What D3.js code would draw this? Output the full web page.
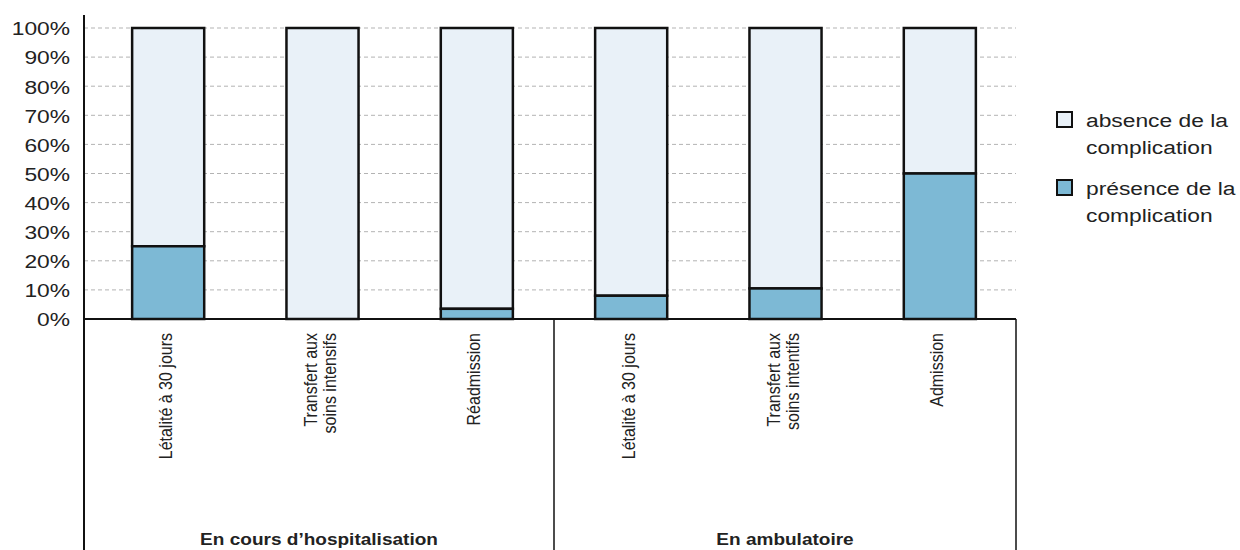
<!DOCTYPE html>
<html>
<head>
<meta charset="utf-8">
<script src="https://cdn.jsdelivr.net/npm/d3@7"></script>
<style>
  html, body { margin: 0; padding: 0; background: #fff; }
  svg { display: block; font-family: "Liberation Sans", Arial, Helvetica, sans-serif; }
</style>
</head>
<body>
<svg id="chart" width="1240" height="550"></svg>
<script>
// Complications, share of patients (%)
const categories = [
  ["Létalité à 30 jours"],
  ["Transfert aux", "soins intensifs"],
  ["Réadmission"],
  ["Létalité à 30 jours"],
  ["Transfert aux", "soins intentifs"],
  ["Admission"]
];
const groups = ["En cours d’hospitalisation", "En ambulatoire"];
const presence = [25, 0, 3.5, 8, 10.5, 50];
const absence = [75, 100, 96.5, 92, 89.5, 50];
const yTicks = [0, 10, 20, 30, 40, 50, 60, 70, 80, 90, 100];
const seriesNames = ["absence de la\ncomplication", "présence de la\ncomplication"];
const seriesColors = ["#e9f1f8", "#7db9d5"];

// the typeface is set slightly wide: glyphs are stretched horizontally
const stretch = 1.2;

const svg = d3.select("#chart");
const plotLeft = 84, plotRight = 1016, plotTop = 28, plotBottom = 319;

const x = d3.scaleBand()
  .domain(d3.range(categories.length))
  .range([91, 1017])
  .paddingInner(0.533)
  .paddingOuter(0.2665);

const y = d3.scaleLinear().domain([0, 100]).range([plotBottom, plotTop]);

// dashed gridlines
svg.append("g")
  .selectAll("line")
  .data(yTicks.filter(d => d > 0))
  .join("line")
  .attr("x1", plotLeft).attr("x2", plotRight)
  .attr("y1", d => y(d)).attr("y2", d => y(d))
  .attr("stroke", "#b3b3b3")
  .attr("stroke-width", 1)
  .attr("stroke-dasharray", "4,3");

// y axis labels
const yAxis = d3.axisLeft(y).tickValues(yTicks).tickFormat(d => d + "%").tickSize(0).tickPadding(0);
const ya = svg.append("g").attr("transform", `translate(${plotLeft},0)`).call(yAxis);
ya.select(".domain").remove();
ya.selectAll("text")
  .attr("x", -14 / stretch)
  .attr("dy", "0.36em")
  .attr("transform", `scale(${stretch},1)`)
  .attr("font-size", 19)
  .attr("fill", "#222")
  .attr("font-family", "Liberation Sans, Arial, sans-serif");

// stacked bars
const stacked = categories.map((c, i) => ({ i, p: presence[i], a: absence[i] }));
const bars = svg.append("g");
bars.selectAll("rect.abs")
  .data(stacked)
  .join("rect")
  .attr("class", "abs")
  .attr("x", d => x(d.i))
  .attr("width", x.bandwidth())
  .attr("y", d => y(d.p + d.a))
  .attr("height", d => y(d.p) - y(d.p + d.a))
  .attr("fill", seriesColors[0])
  .attr("stroke", "#111")
  .attr("stroke-width", 2.5);
bars.selectAll("rect.pres")
  .data(stacked.filter(d => d.p > 0))
  .join("rect")
  .attr("class", "pres")
  .attr("x", d => x(d.i))
  .attr("width", x.bandwidth())
  .attr("y", d => y(d.p))
  .attr("height", d => y(0) - y(d.p))
  .attr("fill", seriesColors[1])
  .attr("stroke", "#111")
  .attr("stroke-width", 2.5);

// axis frame: y axis line, baseline and group separators
const frame = svg.append("g").attr("stroke", "#111").attr("stroke-width", 2);
frame.append("line").attr("x1", plotLeft).attr("x2", plotLeft).attr("y1", 15).attr("y2", 550);
frame.append("line").attr("x1", plotLeft).attr("x2", plotRight).attr("y1", plotBottom).attr("y2", plotBottom);
const groupEdges = [plotLeft, (x(2) + x.bandwidth() + x(3)) / 2, plotRight];
frame.append("line").attr("x1", groupEdges[1]).attr("x2", groupEdges[1]).attr("y1", plotBottom).attr("y2", 550).attr("stroke-width", 1.5);
frame.append("line").attr("x1", groupEdges[2]).attr("x2", groupEdges[2]).attr("y1", plotBottom).attr("y2", 550).attr("stroke-width", 1.5);

// rotated category labels
const lineGap = 19;
const catWide = 1.15;
const catG = svg.append("g");
categories.forEach((lines, i) => {
  const cx = x(i) + x.bandwidth() / 2 - 3;
  const t = catG.append("text")
    .attr("transform", `translate(${cx},333) rotate(-90) scale(1,${catWide})`)
    .attr("text-anchor", "end")
    .attr("font-size", 16)
    .attr("fill", "#222");
  lines.forEach((ln, k) => {
    t.append("tspan")
      .attr("x", 0)
      .attr("y", (k - (lines.length - 1) / 2) * lineGap / catWide)
      .attr("dy", "0.36em")
      .text(ln);
  });
});

// group labels
const groupWide = 1.12;
groups.forEach((g, gi) => {
  const gx = (groupEdges[gi] + groupEdges[gi + 1]) / 2;
  svg.append("text")
    .attr("transform", `translate(${gx},545) scale(${groupWide},1)`)
    .attr("text-anchor", "middle")
    .attr("font-size", 17)
    .attr("font-weight", "bold")
    .attr("fill", "#222")
    .text(g);
});

// legend
const legend = svg.append("g");
seriesNames.forEach((name, k) => {
  const ly = 112 + k * 68;
  legend.append("rect")
    .attr("x", 1057).attr("y", ly)
    .attr("width", 15).attr("height", 15)
    .attr("fill", seriesColors[k])
    .attr("stroke", "#111").attr("stroke-width", 2);
  const t = legend.append("text")
    .attr("transform", `translate(1086,${ly + 15}) scale(${stretch},1)`)
    .attr("font-size", 19)
    .attr("fill", "#222");
  name.split("\n").forEach((ln, j) => {
    t.append("tspan").attr("x", 0).attr("dy", j === 0 ? 0 : 27).text(ln);
  });
});
</script>
</body>
</html>
